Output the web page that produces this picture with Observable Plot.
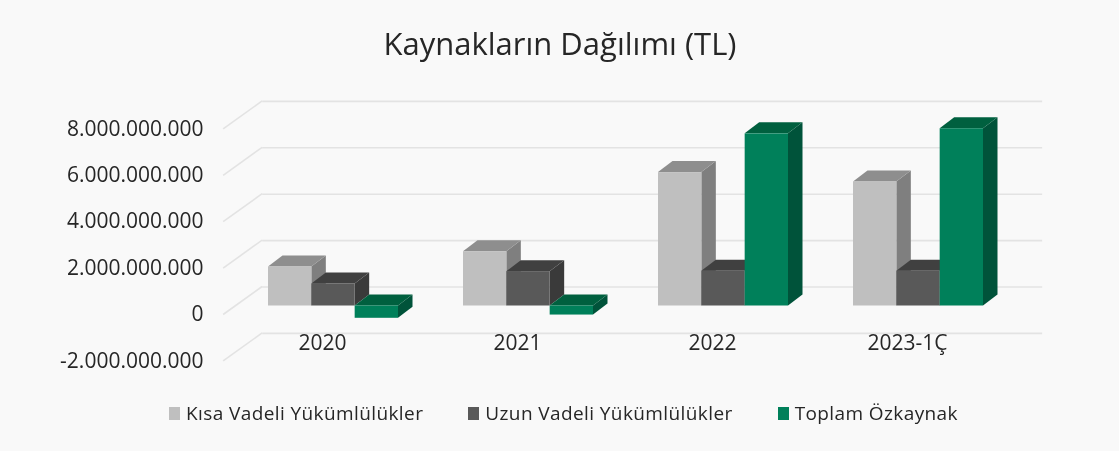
<!DOCTYPE html>
<html lang="tr">
<head>
<meta charset="utf-8">
<script src="https://cdn.jsdelivr.net/npm/d3@7"></script>
<script src="https://cdn.jsdelivr.net/npm/@observablehq/plot@0.6"></script>
<style>
html,body{margin:0;padding:0;background:#f9f9f9;width:1119px;height:451px;overflow:hidden;font-family:"Open Sans",sans-serif;color:#262626}
#page{filter:blur(0.45px)}
#title{height:70px;line-height:86px;text-align:center;font-size:31px;margin-left:1px}
#chart svg{display:block;background:transparent}
#legend{display:flex;align-items:center;height:36px;padding-left:169px;font-size:19px;letter-spacing:0.4px}
#legend .item{display:flex;align-items:center;margin-right:45px}
#legend .sw{width:11px;height:13px;margin-right:6px;display:inline-block}
</style>
</head>
<body>
<div id="page">
<div id="title">Kaynakların Dağılımı (TL)</div>
<div id="chart"></div>
<div id="legend"></div>
</div>
<script>
const categories = ["2020", "2021", "2022", "2023-1Ç"];
const seriesNames = ["Kısa Vadeli Yükümlülükler", "Uzun Vadeli Yükümlülükler", "Toplam Özkaynak"];
const shortTerm = [1680000000, 2340000000, 5750000000, 5350000000];
const longTerm = [950000000, 1480000000, 1500000000, 1500000000];
const equity = [-530000000, -390000000, 7420000000, 7640000000];
const yTicks = [-2000000000, 0, 2000000000, 4000000000, 6000000000, 8000000000];
const frontColors = ["#bfbfbf", "#595959", "#00805a"];
const topColors = ["#8e8e8e", "#404040", "#00603f"];
const sideColors = ["#7f7f7f", "#3a3a3a", "#00533a"];

const barWidth = 2 / 9;
const table = [shortTerm, longTerm, equity].flatMap((vals, s) =>
  vals.map((value, c) => ({category: categories[c], c, s, value, x1: c + s * barWidth, x2: c + (s + 1) * barWidth}))
);

const fmt = v => String(v).replace(/\B(?=(\d{3})+(?!\d))/g, ".");
const depthX = 14.5, depthY = 11;       // bar depth in pixels
const backShift = 19;                   // back wall above the bar plane
const wallX = 39, wallY = 28;           // side wall extent
const svgNS = "http://www.w3.org/2000/svg";

function bars3d(index, scales, values, dimensions, context, next) {
  const g = document.createElementNS(svgNS, "g");
  const order = Array.from(index).sort((a, b) => table[a].s - table[b].s);
  for (const i of order) {
    const xl = values.x1[i], xr = values.x2[i];
    const yt = Math.min(values.y1[i], values.y2[i]), yb = Math.max(values.y1[i], values.y2[i]);
    const face = (pts, fill) => {
      const p = document.createElementNS(svgNS, "polygon");
      p.setAttribute("points", pts.map(q => q.join(",")).join(" "));
      p.setAttribute("fill", fill);
      g.appendChild(p);
    };
    face([[xr, yt], [xr + depthX, yt - depthY], [xr + depthX, yb - depthY], [xr, yb]], sideColors[table[i].s]);
    face([[xl, yt], [xl + depthX, yt - depthY], [xr + depthX, yt - depthY], [xr, yt]], topColors[table[i].s]);
    g.appendChild(next([i], scales, values, dimensions, context));
  }
  return g;
}

function wall(index, {x, y}) {
  const g = d3.create("svg:g").attr("stroke", "#e3e3e3").attr("stroke-width", 1.6);
  for (const t of yTicks) {
    const x0 = x(-0.03), y0 = y(t) - backShift;
    g.append("line").attr("x1", x0).attr("y1", y0).attr("x2", x0 - wallX).attr("y2", y0 + wallY);
  }
  return g.node();
}

const chart = Plot.plot({
  width: 1119,
  height: 325,
  marginLeft: 207,
  marginRight: 0,
  marginTop: 0,
  marginBottom: 0,
  style: {background: "transparent", fontFamily: "'Open Sans',sans-serif"},
  x: {type: "linear", domain: [0, 4], range: [268, 1048], axis: null},
  y: {domain: [-2000000000, 8000000000], range: [281.9, 49.9]},
  marks: [
    wall,
    Plot.ruleY(yTicks, {y: d => d, x1: () => -0.03, x2: () => 3.97, dy: -backShift, stroke: "#e3e3e3", strokeWidth: 1.6}),
    Plot.axisY({ticks: yTicks, tickFormat: fmt, tickSize: 0, tickPadding: 4, dy: 8.5, fontSize: 21, fill: "#262626", label: null}),
    Plot.rect(table, {x1: "x1", x2: "x2", y1: () => 0, y2: "value", fill: d => frontColors[d.s], render: bars3d}),
    Plot.text(categories, {x: (d, i) => i + 1 / 3, y: () => 0, text: d => d, dx: -11, dy: 37, fontSize: 21, fill: "#262626"})
  ]
});
document.getElementById("chart").appendChild(chart);

const legend = document.getElementById("legend");
seriesNames.forEach((name, i) => {
  const item = document.createElement("div");
  item.className = "item";
  const sw = document.createElement("span");
  sw.className = "sw";
  sw.style.background = frontColors[i];
  const label = document.createElement("span");
  label.textContent = name;
  item.append(sw, label);
  legend.appendChild(item);
});
</script>
</body>
</html>
